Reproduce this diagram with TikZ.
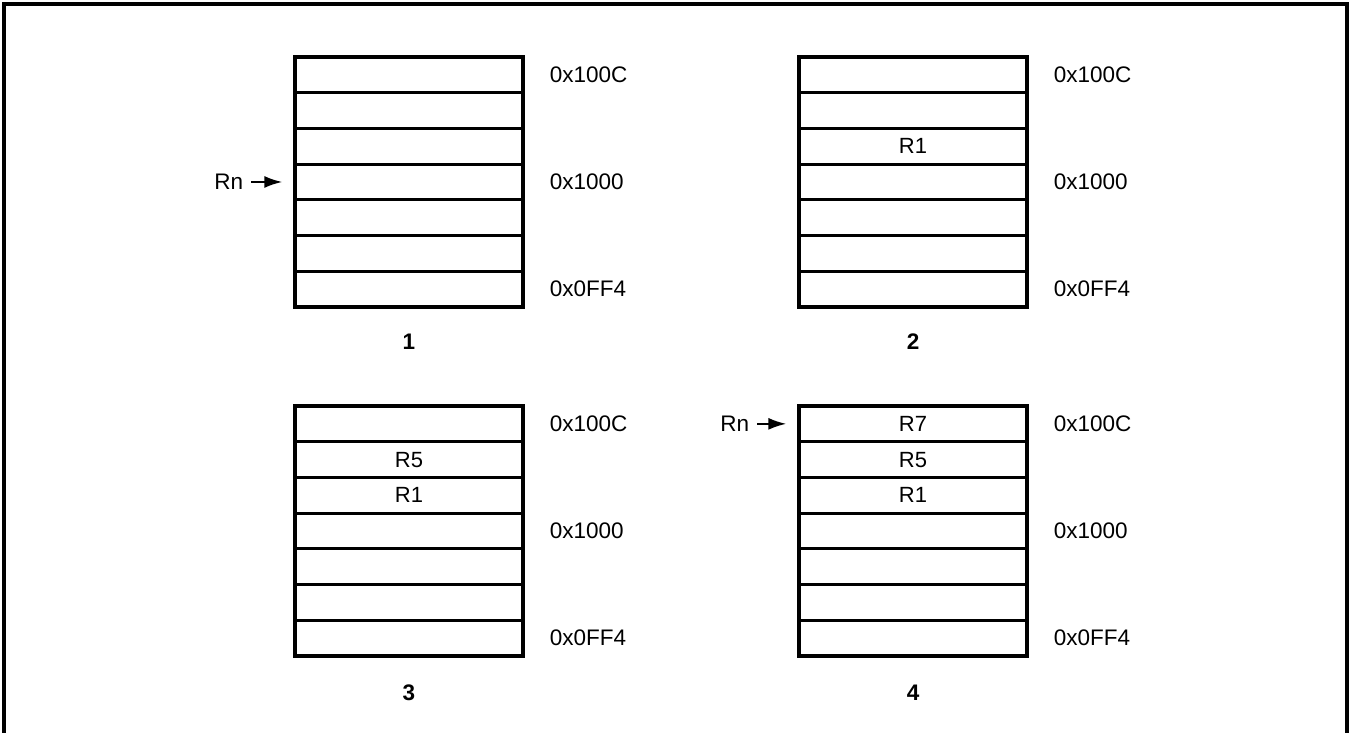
\documentclass[tikz,border=0pt]{standalone}
\usepackage{fontspec}
\setmainfont{Liberation Sans}
\usetikzlibrary{arrows.meta}
\begin{document}
\begin{tikzpicture}[x=1pt,y=-1pt,
  cell/.style={draw,line width=3.2pt,minimum width=228pt,minimum height=35.7pt,inner sep=0pt,font=\fontsize{22}{24}\selectfont},
  addr/.style={anchor=west,inner sep=0pt,font=\fontsize{22.5}{24}\selectfont},
  num/.style={inner sep=0pt,font=\bfseries\fontsize{22.5}{24}\selectfont},
  ptrlabel/.style={anchor=east,inner sep=0pt,font=\fontsize{22.5}{24}\selectfont},
  ptr/.style={-{Latex[length=18pt,width=12pt]},line width=2.2pt,shorten >=11pt}]
\useasboundingbox (0,0) rectangle (1350,733);
\draw[line width=3.2pt] (4,733) -- (4,4) -- (1347,4) -- (1347,733);

% box 1
\foreach \i/\t in {1/,2/,3/,4/,5/,6/,7/}
  \node[cell] (a\i) at (409,{57+17.85+(\i-1)*35.71}) {\t};
% box 2
\foreach \i/\t in {1/,2/,3/R1,4/,5/,6/,7/}
  \node[cell] (b\i) at (913,{57+17.85+(\i-1)*35.71}) {\t};
% box 3
\foreach \i/\t in {1/,2/R5,3/R1,4/,5/,6/,7/}
  \node[cell] (c\i) at (409,{406+17.85+(\i-1)*35.71}) {\t};
% box 4
\foreach \i/\t in {1/R7,2/R5,3/R1,4/,5/,6/,7/}
  \node[cell] (d\i) at (913,{406+17.85+(\i-1)*35.71}) {\t};

% address labels
\foreach \b in {a,b,c,d}{
  \node[addr] (\b top) at ([xshift=25pt]\b1.east) {0x100C};
  \node[addr] (\b mid) at ([xshift=25pt]\b4.east) {0x1000};
  \node[addr] (\b bot) at ([xshift=25pt]\b7.east) {0x0FF4};
}

% numbers
\node[num] (n1) at ([yshift=-33pt]a7.south) {1};
\node[num] (n2) at ([yshift=-33pt]b7.south) {2};
\node[num] (n3) at ([yshift=-35pt]c7.south) {3};
\node[num] (n4) at ([yshift=-35pt]d7.south) {4};

% pointers
\node[ptrlabel] (rn1) at ([xshift=-50pt]a4.west) {Rn};
\draw[ptr] ([xshift=8pt]rn1.east) -- (a4.west);
\node[ptrlabel] (rn4) at ([xshift=-48pt]d1.west) {Rn};
\draw[ptr] ([xshift=8pt]rn4.east) -- (d1.west);
\end{tikzpicture}
\end{document}
